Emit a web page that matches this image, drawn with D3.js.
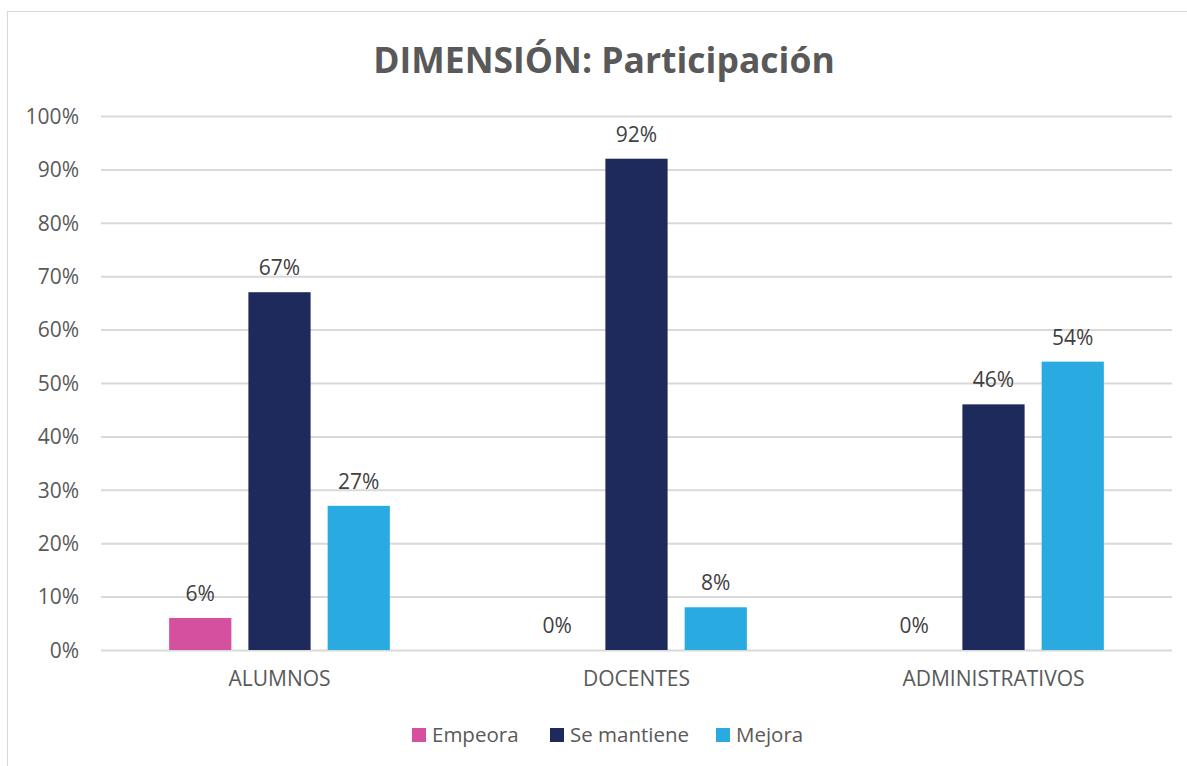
<!DOCTYPE html>
<meta charset="utf-8">
<title>DIMENSIÓN: Participación</title>
<style>
body {
  margin: 0;
  background: #fff;
  font-family: "Open Sans", sans-serif;
}
svg text {
  font-family: "Open Sans", sans-serif;
}
.tick text {
  fill: #595959;
  font-size: 21px;
}
.label {
  fill: #404040;
  font-size: 21px;
  text-anchor: middle;
}
</style>
<body>
<svg width="1187" height="766"></svg>
<script src="https://d3js.org/d3.v7.min.js"></script>
<script>
// chart data
var categories = ["ALUMNOS", "DOCENTES", "ADMINISTRATIVOS"];
var series = ["Empeora", "Se mantiene", "Mejora"];
var empeora = [0.06, 0, 0];
var seMantiene = [0.67, 0.92, 0.46];
var mejora = [0.27, 0.08, 0.54];
var yTicks = [0, 0.1, 0.2, 0.3, 0.4, 0.5, 0.6, 0.7, 0.8, 0.9, 1];
var colors = ["#D5509E", "#1F2A5C", "#29ABE2"];

var values = [empeora, seMantiene, mejora];

var svg = d3.select("svg"),
    width = +svg.attr("width"),
    height = +svg.attr("height");

// outer frame (only top/left visible in the picture)
svg.append("rect")
    .attr("x", 7.5).attr("y", 11.5)
    .attr("width", 1300).attr("height", 900)
    .attr("fill", "none")
    .attr("stroke", "#d9d9d9");

var margin = {left: 101, right: 1172, top: 116, bottom: 650};

var x0 = d3.scaleBand()
    .domain(categories)
    .range([margin.left, margin.right]);

var x1 = d3.scaleBand()
    .domain(series)
    .range([0, x0.bandwidth()])
    .paddingInner(0.215)
    .paddingOuter(0.86);

var y = d3.scaleLinear()
    .domain([0, 1])
    .range([margin.bottom, margin.top]);

// title
svg.append("text")
    .attr("x", 604)
    .attr("y", 73)
    .attr("text-anchor", "middle")
    .style("font-size", "35.5px")
    .style("font-weight", "bold")
    .style("fill", "#595959")
    .text("DIMENSIÓN: Participación");

// y axis with gridlines
var yAxis = svg.append("g")
    .attr("transform", "translate(" + margin.left + ",0)")
    .call(d3.axisLeft(y)
      .tickValues(yTicks)
      .tickFormat(d3.format(".0%"))
      .tickSize(-(margin.right - margin.left))
      .tickPadding(22));
yAxis.attr("font-family", null).attr("font-size", null);
yAxis.select(".domain").remove();
yAxis.selectAll(".tick line")
    .attr("stroke", "#d9d9d9")
    .attr("stroke-width", 2);
yAxis.selectAll(".tick text").attr("dy", "0.35em");

// x axis labels
var xAxis = svg.append("g")
    .attr("transform", "translate(0," + margin.bottom + ")")
    .call(d3.axisBottom(x0).tickSize(0).tickPadding(21));
xAxis.attr("font-family", null).attr("font-size", null);
xAxis.select(".domain").remove();

// bars
var groups = svg.append("g")
  .selectAll("g")
  .data(categories)
  .enter().append("g")
    .attr("transform", function(d) { return "translate(" + x0(d) + ",0)"; });

var cells = groups.selectAll("g")
  .data(function(d, ci) {
    return series.map(function(s, si) { return {s: s, si: si, v: values[si][ci]}; });
  })
  .enter().append("g");

cells.append("rect")
    .attr("x", function(d) { return x1(d.s); })
    .attr("width", x1.bandwidth())
    .attr("y", function(d) { return y(d.v); })
    .attr("height", function(d) { return y(0) - y(d.v); })
    .attr("fill", function(d) { return colors[d.si]; });

cells.append("text")
    .attr("class", "label")
    .attr("x", function(d) { return x1(d.s) + x1.bandwidth() / 2; })
    .attr("y", function(d) { return y(d.v) - 17; })
    .text(function(d) { return d3.format(".0%")(d.v); });

// legend
var legendX = [412, 550, 716];
var legend = svg.append("g")
  .selectAll("g")
  .data(series)
  .enter().append("g")
    .attr("transform", function(d, i) { return "translate(" + legendX[i] + ",728)"; });

legend.append("rect")
    .attr("width", 14).attr("height", 14)
    .attr("fill", function(d, i) { return colors[i]; });

legend.append("text")
    .attr("x", 20)
    .attr("y", 14)
    .style("font-size", "20.5px")
    .style("fill", "#595959")
    .text(function(d) { return d; });
</script>
</body>
